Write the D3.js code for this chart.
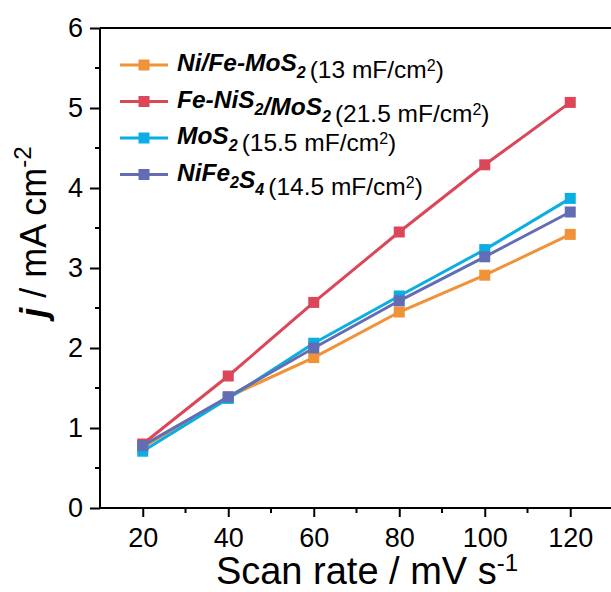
<!DOCTYPE html>
<html>
<head>
<meta charset="utf-8">
<script src="https://cdn.jsdelivr.net/npm/d3@7"></script>
<style>
  body { margin: 0; background: #fff; }
  svg text { font-family: "Liberation Sans", Arial, sans-serif; fill: #000; }
</style>
</head>
<body>
<svg></svg>
<script>
let w = 611;
let h = 592;

// data
const rates = [20, 40, 60, 80, 100, 120];
const niFeMoS2 = [0.76, 1.39, 1.88, 2.45, 2.91, 3.42];
const feNiS2MoS2 = [0.80, 1.65, 2.57, 3.45, 4.29, 5.07];
const mos2 = [0.71, 1.37, 2.06, 2.65, 3.23, 3.87];
const niFe2S4 = [0.78, 1.39, 2.00, 2.59, 3.14, 3.70];
const xTicks = [20, 40, 60, 80, 100, 120];
const yTicks = [0, 1, 2, 3, 4, 5, 6];

// legend: name parts [text, sub] + capacitance
const series = [
  { name: [['Ni/Fe-MoS', '2']], cap: '13', values: niFeMoS2, color: '#f09238' },
  { name: [['Fe-NiS', '2'], ['/MoS', '2']], cap: '21.5', values: feNiS2MoS2, color: '#dc4659' },
  { name: [['MoS', '2']], cap: '15.5', values: mos2, color: '#0aaee2' },
  { name: [['NiFe', '2'], ['S', '4']], cap: '14.5', values: niFe2S4, color: '#636db3' }
];

const svg = d3.select('svg')
  .attr('width', w)
  .attr('height', h)

const x = d3.scaleLinear().domain([10, 130]).range([100, 613]);
const y = d3.scaleLinear().domain([0, 6]).range([508, 28]);

// frame top line
svg.append('line')
  .attr('x1', x(10)).attr('x2', x(130))
  .attr('y1', y(6)).attr('y2', y(6))
  .attr('stroke', '#000').attr('stroke-width', 2)

// Axes
const xAxis = d3.axisBottom(x).tickValues(xTicks).tickSize(9).tickPadding(11).tickFormat(d3.format('d'));
const gx = svg.append('g')
  .attr('transform', 'translate(0,' + y(0) + ')')
  .call(xAxis)
gx.selectAll('.tick text').attr('font-size', 27).attr('dy', '0.71em')
gx.append('g').selectAll('line')
  .data([30, 50, 70, 90, 110])
  .enter().append('line')
  .attr('x1', d => x(d)).attr('x2', d => x(d))
  .attr('y1', 0).attr('y2', 5)
  .attr('stroke', '#000').attr('stroke-width', 2)

const yAxis = d3.axisLeft(y).tickValues(yTicks).tickSize(10).tickPadding(7).tickFormat(d3.format('d'));
const gy = svg.append('g')
  .attr('transform', 'translate(' + x(10) + ',0)')
  .call(yAxis)
gy.selectAll('.tick text').attr('font-size', 27)
gy.append('g').selectAll('line')
  .data([0.5, 1.5, 2.5, 3.5, 4.5, 5.5])
  .enter().append('line')
  .attr('y1', d => y(d)).attr('y2', d => y(d))
  .attr('x1', 0).attr('x2', -5)
  .attr('stroke', '#000').attr('stroke-width', 2)

svg.selectAll('.domain, .tick line').attr('stroke', '#000').attr('stroke-width', 2)
gx.select('.domain').attr('d', 'M' + x(10) + ',0H' + x(130))
gy.select('.domain').attr('d', 'M0,' + y(0) + 'V' + y(6))

// Axis titles
const xt = svg.append('text')
  .attr('x', 367).attr('y', 584)
  .attr('text-anchor', 'middle')
  .attr('font-size', 38)
xt.append('tspan').text('Scan rate / mV s')
xt.append('tspan').attr('font-size', 24).attr('dy', -13).text('-1')

const yt = svg.append('text')
  .attr('transform', 'translate(46,232) rotate(-90)')
  .attr('text-anchor', 'middle')
  .attr('font-size', 36)
yt.append('tspan').attr('font-weight', 'bold').attr('font-style', 'italic').text('j')
yt.append('tspan').text(' / mA cm')
yt.append('tspan').attr('font-size', 24).attr('dy', -15).text('-2')

// Lines and markers
const line = d3.line()
  .x((d, i) => x(rates[i]))
  .y(d => y(d))

series.forEach(s => {
  const g = svg.append('g')
  g.append('path')
    .attr('d', line(s.values))
    .attr('fill', 'none')
    .attr('stroke', s.color)
    .attr('stroke-width', 3)
  g.selectAll('rect')
    .data(s.values)
    .enter()
    .append('rect')
    .attr('x', (d, i) => x(rates[i]) - 5.5)
    .attr('y', d => y(d) - 5.5)
    .attr('width', 11)
    .attr('height', 11)
    .attr('fill', s.color)
})

// Legend
const legend = svg.append('g')
series.forEach((s, i) => {
  const ly = 65 + i * 36.5;
  legend.append('line')
    .attr('x1', 120).attr('x2', 168)
    .attr('y1', ly).attr('y2', ly)
    .attr('stroke', s.color).attr('stroke-width', 3)
  legend.append('rect')
    .attr('x', 144 - 5.5).attr('y', ly - 5.5)
    .attr('width', 11).attr('height', 11)
    .attr('fill', s.color)
  const t = legend.append('text')
    .attr('x', 177).attr('y', ly + 6)
    .attr('font-size', 24.5)
  s.name.forEach(p => {
    t.append('tspan').attr('font-weight', 'bold').attr('font-style', 'italic').text(p[0])
    t.append('tspan').attr('font-weight', 'bold').attr('font-style', 'italic')
      .attr('font-size', 16).attr('dy', 7).text(p[1])
    t.append('tspan').attr('dy', -7).text('')
  })
  t.append('tspan').attr('dx', 4).text('(' + s.cap + ' mF/cm')
  t.append('tspan').attr('font-size', 16).attr('dy', -7).text('2')
  t.append('tspan').attr('dy', 7).text(')')
})
</script>
</body>
</html>
